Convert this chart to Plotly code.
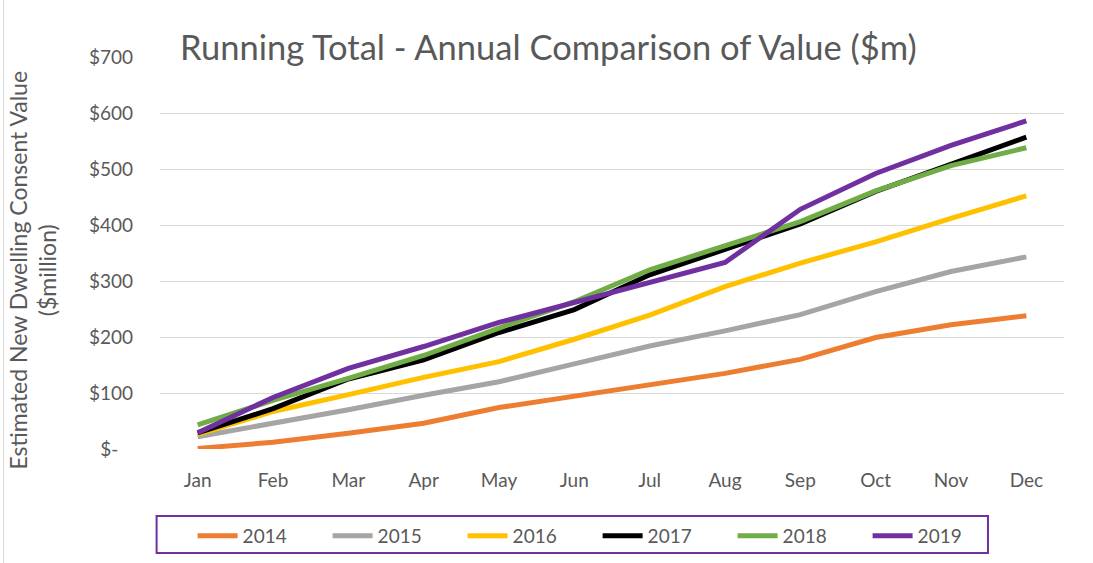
import plotly.graph_objects as go

months = ["Jan", "Feb", "Mar", "Apr", "May", "Jun", "Jul", "Aug", "Sep", "Oct", "Nov", "Dec"]
y2014 = [1, 12, 28, 46, 74, 94, 115, 135, 160, 199, 222, 238]
y2015 = [22, 45, 70, 96, 120, 152, 184, 211, 240, 281, 317, 343]
y2016 = [26, 67, 97, 128, 156, 196, 239, 290, 332, 370, 412, 452]
y2017 = [29, 72, 125, 159, 208, 249, 311, 356, 402, 460, 509, 557]
y2018 = [43, 87, 126, 167, 216, 263, 320, 364, 406, 461, 506, 538]
y2019 = [29, 92, 144, 183, 226, 262, 299, 333, 428, 492, 542, 586]

series = [
    ("2014", y2014, "#ED7D31"),
    ("2015", y2015, "#A5A5A5"),
    ("2016", y2016, "#FFC000"),
    ("2017", y2017, "#000000"),
    ("2018", y2018, "#70AD47"),
    ("2019", y2019, "#7030A0"),
]

ytick_vals = [0, 100, 200, 300, 400, 500, 600, 700]
ytick_text = ["$-   ", "$100", "$200", "$300", "$400", "$500", "$600", "$700"]

FONT = "Lato"
TXT = "#595959"

# plot area geometry (pixels)
L, R, T, B = 160.4, 29.0, 57.0, 114.0
PW = 1093 - L - R
PH = 563 - T - B


def px_x(p):
    return (p - L) / PW


def px_y(p):
    return (563 - B - p) / PH


fig = go.Figure()
for name, vals, color in series:
    fig.add_trace(go.Scatter(
        x=months, y=vals, name=name, mode="lines",
        line=dict(color=color, width=5, shape="linear"),
    ))

fig.update_layout(
    width=1093, height=563,
    margin=dict(l=L, r=R, t=T, b=B, autoexpand=False),
    paper_bgcolor="white", plot_bgcolor="white",
    font=dict(family=FONT, color=TXT, size=19),
    title=dict(
        text="Running Total - Annual Comparison of Value ($m)",
        x=180 / 1093, xanchor="left", xref="container",
        y=1 - 48 / 563, yanchor="middle", yref="container",
        font=dict(family=FONT, size=34.5, color=TXT),
    ),
    showlegend=True,
    legend=dict(
        orientation="h",
        x=px_x(193), xanchor="left",
        y=px_y(517), yanchor="top",
        bgcolor="rgba(0,0,0,0)",
        borderwidth=0,
        font=dict(family=FONT, size=19, color=TXT),
        entrywidth=80, entrywidthmode="pixels",
        itemwidth=40,
    ),
    xaxis=dict(
        range=[-0.5, 11.5],
        showgrid=False, zeroline=False, showline=False,
        ticks="", ticklabelstandoff=18,
        tickfont=dict(family=FONT, size=19, color=TXT),
    ),
    yaxis=dict(
        range=[0, 700],
        tickvals=ytick_vals, ticktext=ytick_text,
        showgrid=True, gridcolor="#D9D9D9", gridwidth=1.3,
        zeroline=False, showline=False,
        ticks="", ticklabelstandoff=26,
        tickfont=dict(family=FONT, size=19, color=TXT),
    ),
    annotations=[dict(
        text="Estimated New Dwelling Consent Value<br>($million)",
        xref="paper", yref="paper",
        x=px_x(33), y=px_y(270),
        xanchor="center", yanchor="middle",
        textangle=-90, showarrow=False,
        font=dict(family=FONT, size=23, color=TXT),
    )],
    shapes=[
        dict(
            type="line", xref="paper", yref="paper",
            x0=px_x(4), x1=px_x(4), y0=px_y(563), y1=px_y(0),
            line=dict(color="#D9D9D9", width=1),
        ),
        dict(
            type="rect", xref="paper", yref="paper",
            x0=px_x(157), x1=px_x(988), y0=px_y(553), y1=px_y(516),
            line=dict(color="#7030A0", width=2),
            fillcolor="rgba(0,0,0,0)",
        ),
    ],
)

fig.write_html("out.html")
